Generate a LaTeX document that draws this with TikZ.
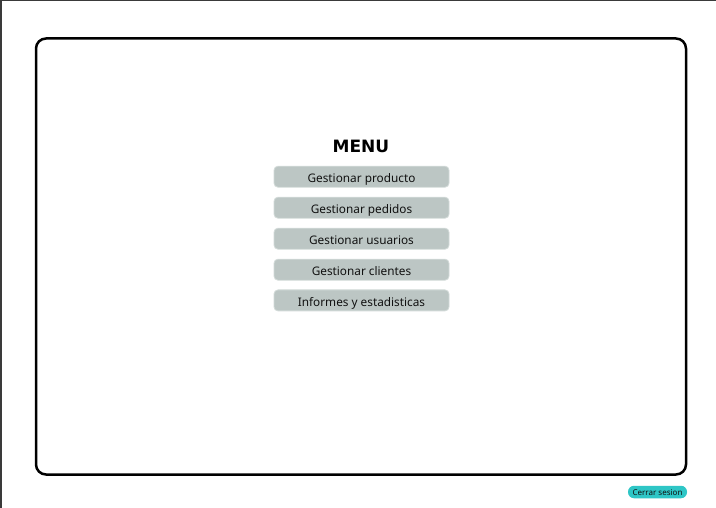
\documentclass[tikz,border=0pt]{standalone}
\usepackage{fontspec}
\setmainfont{Noto Sans}
\newfontfamily\titlefont{DejaVu Sans}
\definecolor{btnfill}{HTML}{BCC6C4}
\definecolor{btnedge}{HTML}{D2DAD8}
\definecolor{teal}{HTML}{2EC6C6}
\definecolor{framegray}{HTML}{3A3A3A}
\definecolor{txt}{HTML}{111111}
\tikzset{
  menubtn/.style={draw=btnedge, line width=0.8pt, fill=btnfill, rounded corners=4pt,
    minimum width=175pt, minimum height=21pt, inner sep=0pt,
    text height=11.2pt, text depth=0pt,
    font=\fontsize{11.8}{13}\selectfont, text=txt},
  logout/.style={fill=teal, rounded corners=6pt, minimum width=59pt, minimum height=12.5pt,
    inner sep=0pt, text height=7pt, text depth=0pt,
    font=\fontsize{8}{9}\selectfont, text=txt},
  panel/.style={draw=black, line width=2.5pt, rounded corners=10pt},
}
\begin{document}
\begin{tikzpicture}[x=1pt,y=-1pt]
\useasboundingbox (0,0) rectangle (716,508);
\fill[white] (0,0) rectangle (716,508);
\draw[framegray, line width=1.5pt] (716,0.75) -- (0.75,0.75) -- (0.75,508);
\node[panel, minimum width=650pt, minimum height=436pt, inner sep=0pt] (panel) at (361,256.5) {};
\node[font=\titlefont\fontsize{17}{20}\selectfont\bfseries, text=black, anchor=base, inner sep=0pt] (title) at (361,152.3) {MENU};
\node[menubtn] (b1) at (361.5,176.7) {Gestionar producto};
\node[menubtn] (b2) at (361.5,207.7) {Gestionar pedidos};
\node[menubtn] (b3) at (361.5,238.7) {Gestionar usuarios};
\node[menubtn] (b4) at (361.5,269.7) {Gestionar clientes};
\node[menubtn] (b5) at (361.5,300.4) {Informes y estadisticas};
\node[logout] (logout) at (657.5,492) {Cerrar sesion};
\end{tikzpicture}
\end{document}
